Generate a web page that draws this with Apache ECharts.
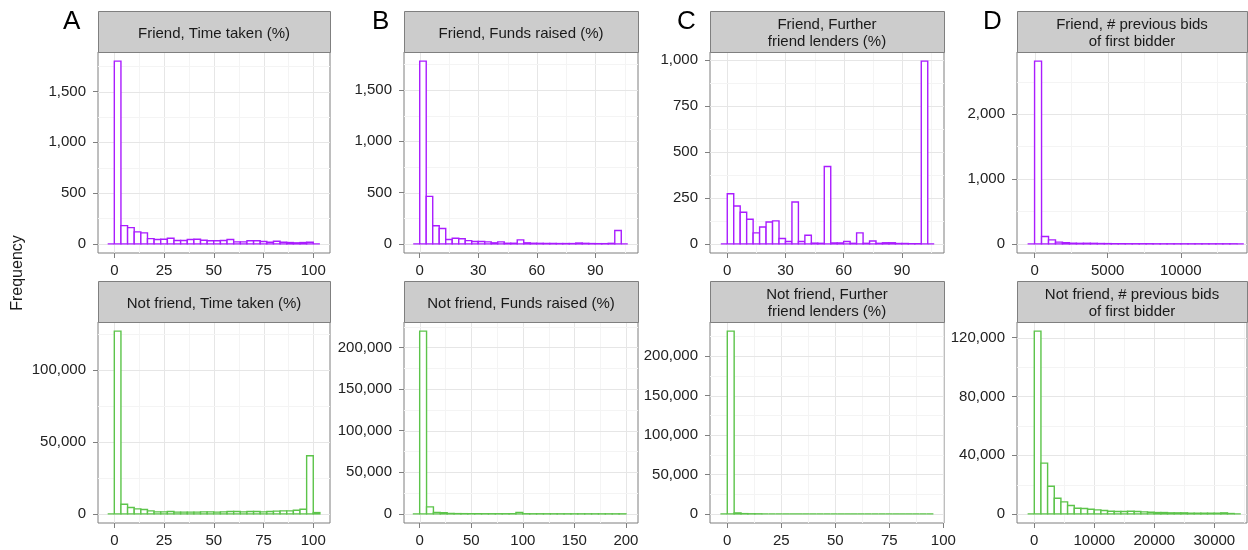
<!DOCTYPE html>
<html lang="en">
<head>
<meta charset="UTF-8">
<title>Friend vs not friend histograms</title>
<script src="https://cdn.jsdelivr.net/npm/echarts@6/dist/echarts.min.js"></script>
<style>
  html, body { margin: 0; padding: 0; background: #fff; }
  #chart { width: 1248px; height: 550px; }
</style>
</head>
<body>
<div id="chart"></div>
<script>
// panels 0-3 = top row (friend), 4-7 = bottom row (not friend)
var stripTitles = [
  'Friend, Time taken (%)', 'Friend, Funds raised (%)',
  'Friend, Further\nfriend lenders (%)', 'Friend, # previous bids\nof first bidder',
  'Not friend, Time taken (%)', 'Not friend, Funds raised (%)',
  'Not friend, Further\nfriend lenders (%)', 'Not friend, # previous bids\nof first bidder'
];
var panelLetters = ['A', 'B', 'C', 'D'];

// left edge of the first bin and bin width, per panel
var binStart = [-3.333, -3.333, -3.333, -477, -3.333, -6.667, -3.18, -1110];
var binWidth = [3.333, 3.333, 3.333, 477, 3.333, 6.667, 3.18, 1110];

// bin counts
var friendTime = [0, 1800, 180, 160, 118, 108, 52, 43, 46, 56, 33, 33, 43, 46, 36, 30, 30, 33, 43, 20, 20,
  30, 30, 23, 16, 26, 16, 13, 10, 13, 16, 0];
var friendFunds = [0, 1780, 463, 176, 149, 42, 55, 50, 32, 23, 23, 19, 10, 19, 6, 6, 39, 10, 6, 5, 4,
  4, 3, 3, 3, 8, 5, 3, 2, 2, 5, 130, 0];
var friendLenders = [0, 273, 206, 172, 134, 60, 92, 119, 125, 29, 13, 228, 13, 47, 4, 3, 421, 5, 5, 13, 3,
  60, 3, 16, 3, 6, 6, 2, 2, 1, 1, 995, 0];
var friendBids = [0, 2814, 113, 61, 27, 18, 10, 8, 9, 8, 5, 4, 3, 3, 2, 2, 2, 2, 1, 1, 1,
  1, 1, 1, 1, 1, 1, 1, 1, 1, 0];
var notFriendTime = [0, 127100, 6700, 4400, 3500, 3000, 2100, 1400, 1400, 1600, 1200, 1200, 1200, 1200, 1400, 1400,
  1200, 1400, 1600, 1600, 1400, 1600, 1600, 1400, 1600, 1900, 2100, 2100, 2550, 3250, 40400, 900];
var notFriendFunds = [0, 219500, 8400, 1800, 1400, 500, 300, 250, 200, 200, 150, 150, 150, 150, 200, 1800,
  150, 100, 100, 80, 80, 60, 60, 50, 50, 40, 40, 30, 30, 30, 30];
var notFriendLenders = [0, 231600, 1200, 300, 100, 50, 0, 0, 0, 0, 0, 0, 0, 0, 0, 0,
  0, 0, 0, 0, 0, 0, 0, 0, 0, 0, 0, 0, 0, 0, 0];
var notFriendBids = [0, 124500, 34600, 18800, 10600, 8150, 5660, 3850, 3620, 3170, 2720, 2260, 1810, 1580, 1580, 1810,
  1580, 1360, 1130, 900, 900, 680, 680, 680, 450, 450, 450, 450, 450, 680, 230, 0];

var panelCounts = [friendTime, friendFunds, friendLenders, friendBids,
  notFriendTime, notFriendFunds, notFriendLenders, notFriendBids];

// axis ticks and x extents
var xTicks = [
  [0, 25, 50, 75, 100], [0, 30, 60, 90], [0, 30, 60, 90], [0, 5000, 10000],
  [0, 25, 50, 75, 100], [0, 50, 100, 150, 200], [0, 25, 50, 75, 100], [0, 10000, 20000, 30000]
];
var yTicks = [
  [0, 500, 1000, 1500], [0, 500, 1000, 1500], [0, 250, 500, 750, 1000], [0, 1000, 2000],
  [0, 50000, 100000], [0, 50000, 100000, 150000, 200000], [0, 50000, 100000, 150000, 200000], [0, 40000, 80000, 120000]
];
var xRange = [
  [-8.2, 108.4], [-8.06, 111.9], [-8.9, 111.7], [-1202, 14529],
  [-8.2, 108.4], [-15.2, 211.7], [-8.0, 100.3], [-2880, 35440]
];

var colLeft = [98, 404, 710, 1017];
var colWidth = [232, 234, 234, 230];
var rowTop = [52, 322];
var plotHeight = 201;
var stripHeight = 41;
var rowColor = ['#aa1cff', '#5cc44a'];
var FONT = '"Liberation Sans", Arial, sans-serif';

function withCommas(v) {
  return String(v).replace(/\B(?=(\d{3})+(?!\d))/g, ',');
}

function binsToData(counts, start, width) {
  return counts.map(function (c, i) {
    return [start + i * width, start + (i + 1) * width, c];
  });
}

// major lines at the ticks, minor lines half way between them
function gridLineData(ticks, range, isY) {
  var out = [];
  ticks.forEach(function (t) { out.push([t, isY, 1]); });
  var step = ticks[1] - ticks[0];
  for (var i = -1; i < ticks.length; i++) {
    var m = ticks[0] + (i + 0.5) * step;
    if (m > range[0] && m < range[1]) out.push([m, isY, 0]);
  }
  return out;
}

function renderGridLine(params, api) {
  var cs = params.coordSys;
  var v = api.value(0), isY = api.value(1), major = api.value(2);
  var shape;
  if (isY) {
    var y = Math.round(api.coord([0, v])[1]) + 0.5;
    shape = { x1: cs.x, y1: y, x2: cs.x + cs.width, y2: y };
  } else {
    var x = Math.round(api.coord([v, 0])[0]) + 0.5;
    shape = { x1: x, y1: cs.y, x2: x, y2: cs.y + cs.height };
  }
  return {
    type: 'line', shape: shape,
    style: { stroke: major ? '#e6e6e6' : '#f4f4f4', lineWidth: 1 }
  };
}

function makeBarRenderer(color) {
  return function (params, api) {
    var p0 = api.coord([api.value(0), 0]);
    var p1 = api.coord([api.value(1), api.value(2)]);
    return {
      type: 'polygon',
      shape: { points: [[p0[0], p0[1]], [p0[0], p1[1]], [p1[0], p1[1]], [p1[0], p0[1]]] },
      style: { fill: '#fff', stroke: color, lineWidth: 1.4 }
    };
  };
}

var grids = [], xAxes = [], yAxes = [], series = [], graphics = [];

for (var i = 0; i < 8; i++) {
  var col = i % 4, row = Math.floor(i / 4);
  var counts = panelCounts[i];
  var maxCount = Math.max.apply(null, counts);
  var yRange = [-0.05 * maxCount, 1.05 * maxCount];

  grids.push({
    left: colLeft[col], top: rowTop[row], width: colWidth[col], height: plotHeight,
    show: true, backgroundColor: '#fff', borderColor: '#7f7f7f', borderWidth: 1
  });
  xAxes.push({
    type: 'value', gridIndex: i, min: xRange[i][0], max: xRange[i][1], position: 'bottom',
    axisLine: { show: false, onZero: false },
    axisTick: { show: true, length: 5, customValues: xTicks[i], lineStyle: { color: '#7f7f7f' } },
    axisLabel: { customValues: xTicks[i], color: '#222', fontSize: 15, fontFamily: FONT, margin: 10,
      formatter: function (v) { return String(v); } },
    splitLine: { show: false }
  });
  yAxes.push({
    type: 'value', gridIndex: i, min: yRange[0], max: yRange[1], position: 'left',
    axisLine: { show: false, onZero: false },
    axisTick: { show: true, length: 5, customValues: yTicks[i], lineStyle: { color: '#7f7f7f' } },
    axisLabel: { customValues: yTicks[i], color: '#222', fontSize: 15, fontFamily: FONT, margin: 12,
      formatter: withCommas },
    splitLine: { show: false }
  });

  series.push({
    type: 'custom', xAxisIndex: i, yAxisIndex: i, z: 1, silent: true,
    renderItem: renderGridLine,
    data: gridLineData(xTicks[i], xRange[i], 0).concat(gridLineData(yTicks[i], yRange, 1))
  });
  series.push({
    type: 'custom', xAxisIndex: i, yAxisIndex: i, z: 2, silent: true,
    renderItem: makeBarRenderer(rowColor[row]),
    encode: { x: [0, 1], y: 2 },
    data: binsToData(counts, binStart[i], binWidth[i])
  });

  // facet strip
  var sTop = rowTop[row] - stripHeight;
  graphics.push({
    type: 'rect', z: 10,
    shape: { x: colLeft[col] + 0.5, y: sTop + 0.5, width: colWidth[col], height: stripHeight },
    style: { fill: '#cccccc', stroke: '#7f7f7f', lineWidth: 1 }
  });
  graphics.push({
    type: 'text', z: 11,
    x: colLeft[col] + colWidth[col] / 2, y: sTop + stripHeight / 2 + 2,
    style: { text: stripTitles[i], fill: '#1a1a1a', font: '15px ' + FONT,
      align: 'center', verticalAlign: 'middle', lineHeight: 17 }
  });
}

var letterX = [63, 372, 677, 983];
panelLetters.forEach(function (l, k) {
  graphics.push({
    type: 'text', z: 11, x: letterX[k], y: 22,
    style: { text: l, fill: '#000', font: '26px ' + FONT, align: 'left', verticalAlign: 'middle' }
  });
});
graphics.push({
  type: 'text', z: 11, x: 18, y: 273, rotation: Math.PI / 2,
  style: { text: 'Frequency', fill: '#1a1a1a', font: '16px ' + FONT, align: 'center', verticalAlign: 'middle' }
});

var chart = echarts.init(document.getElementById('chart'));
chart.setOption({
  animation: false,
  backgroundColor: '#fff',
  textStyle: { fontFamily: FONT },
  grid: grids,
  xAxis: xAxes,
  yAxis: yAxes,
  series: series,
  graphic: graphics
});
</script>
</body>
</html>
